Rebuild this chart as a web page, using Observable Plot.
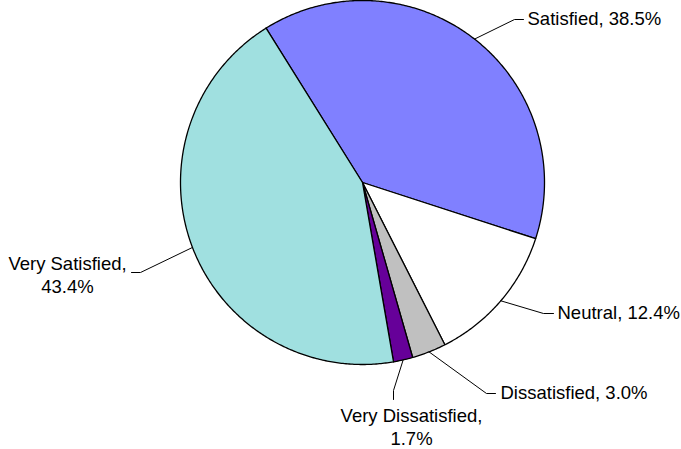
<!DOCTYPE html>
<html>
<head>
<meta charset="utf-8">
<script src="https://cdn.jsdelivr.net/npm/d3@7"></script>
<script src="https://cdn.jsdelivr.net/npm/@observablehq/plot@0.6"></script>
<style>
  html, body { margin: 0; padding: 0; background: #fff; }
  svg { display: block; }
</style>
</head>
<body>
<div id="chart"></div>
<script>
// ---- data ----
const categories = ["Satisfied", "Neutral", "Dissatisfied", "Very Dissatisfied", "Very Satisfied"];
const percents = [38.5, 12.4, 3.0, 1.7, 43.4];
const labelTexts = ["Satisfied, 38.5%", "Neutral, 12.4%", "Dissatisfied, 3.0%", "Very Dissatisfied,\n1.7%", "Very Satisfied,\n43.4%"];
const colors = ["#8080FF", "#FFFFFF", "#C0C0C0", "#660099", "#A0E0E0"];

// ---- layout (pixel units) ----
const W = 681, H = 449;
const cx = 362, cy = 182, R = 182;
const startDeg = -32;
// label layout: elbow point, line end, text anchor
const labelLayout = [
  {elbow: [514, 19], end: [523, 19], text: [527, 19], anchor: "start"},
  {elbow: [543, 313], end: [553, 313], text: [557, 313], anchor: "start"},
  {elbow: [486, 393], end: [495, 393], text: [500, 393], anchor: "start"},
  {elbow: [393, 390], end: [393, 399], text: [411, 425.5], anchor: "middle"},
  {elbow: [140, 272], end: [131, 272], text: [67, 273.5], anchor: "middle"}
];

const rows = categories.map((c, i) => ({cat: c, value: percents[i], label: labelTexts[i], i}));
const pie = d3.pie().value(d => d.value).sort(null)
  .startAngle(startDeg * Math.PI / 180)
  .endAngle(startDeg * Math.PI / 180 + 2 * Math.PI);
const arcs = pie(rows);

const pt = (a, r) => [cx + r * Math.sin(a), cy - r * Math.cos(a)];

const slicePts = [];
arcs.forEach(a => {
  const cat = a.data.cat;
  slicePts.push({cat, x: cx, y: cy});
  const n = Math.max(2, Math.ceil((a.endAngle - a.startAngle) / (Math.PI / 360)));
  for (let k = 0; k <= n; k++) {
    const ang = a.startAngle + (a.endAngle - a.startAngle) * k / n;
    const [x, y] = pt(ang, R);
    slicePts.push({cat, x, y});
  }
  slicePts.push({cat, x: cx, y: cy});
});

const leaderPts = [];
const textPts = [];
arcs.forEach((a, i) => {
  const mid = (a.startAngle + a.endAngle) / 2;
  const [sx, sy] = pt(mid, R);
  const L = labelLayout[i];
  leaderPts.push({cat: a.data.cat, x: sx, y: sy});
  leaderPts.push({cat: a.data.cat, x: L.elbow[0], y: L.elbow[1]});
  leaderPts.push({cat: a.data.cat, x: L.end[0], y: L.end[1]});
  textPts.push({label: a.data.label, x: L.text[0], y: L.text[1], anchor: L.anchor});
});

const chart = Plot.plot({
  width: W,
  height: H,
  margin: 0,
  style: {fontFamily: "'Liberation Sans', Arial, sans-serif", background: "#fff"},
  x: {domain: [0, W], axis: null},
  y: {domain: [H, 0], axis: null},
  color: {domain: categories, range: colors},
  marks: [
    Plot.line(slicePts, {x: "x", y: "y", z: "cat", fill: "cat", stroke: "#000", strokeWidth: 1.3, strokeLinejoin: "round", curve: "linear"}),
    Plot.line(leaderPts, {x: "x", y: "y", z: "cat", stroke: "#000", strokeWidth: 1, curve: "linear"}),
    Plot.text(textPts.filter(d => d.anchor === "start"), {x: "x", y: "y", text: "label", textAnchor: "start", lineAnchor: "middle", fontSize: 18.5, fill: "#000"}),
    Plot.text(textPts.filter(d => d.anchor === "middle"), {x: "x", y: "y", text: "label", textAnchor: "middle", lineAnchor: "middle", lineHeight: 1.24, fontSize: 18.5, fill: "#000"})
  ]
});
document.getElementById("chart").appendChild(chart);
</script>
</body>
</html>
